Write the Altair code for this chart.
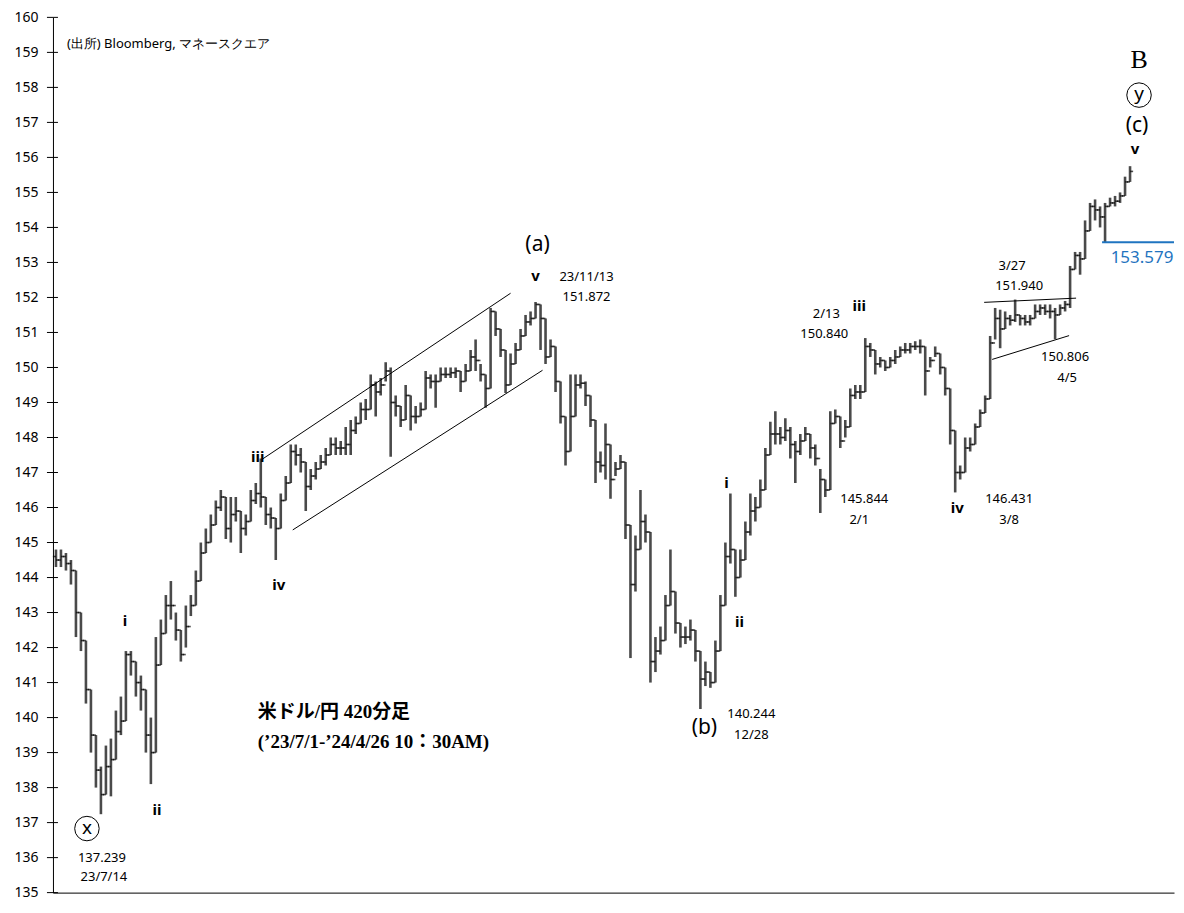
import altair as alt
import pandas as pd

# ---- OHLC data (420-minute bars, one value per bar) ----
FIRST_OPEN = 144.6
highs = [144.8,144.8,144.7,144.5,144.2,143.0,142.2,140.8,139.5,138.6,
         139.2,139.4,140.2,140.6,141.9,141.9,141.6,141.2,140.8,140.0,
         142.3,142.8,143.5,143.9,143.0,142.5,143.2,143.5,144.2,145.0,
         145.4,145.8,146.2,146.5,146.3,146.3,146.3,145.9,145.8,146.5,
         146.7,147.4,146.3,146.0,145.7,146.4,146.9,147.8,147.8,147.7,
         147.3,147.1,147.3,147.5,147.7,148.0,148.0,147.9,148.3,148.5,
         148.6,149.0,149.1,149.8,149.6,149.7,150.15,150.0,149.2,148.9,
         149.5,149.2,148.9,149.0,149.9,149.8,149.8,150.0,150.0,150.0,
         150.0,149.9,150.1,150.5,150.8,150.1,149.8,151.7,151.6,151.1,
         150.5,150.4,150.7,151.1,151.5,151.6,151.87,151.8,151.4,150.8,
         150.6,149.6,148.6,149.8,149.8,149.8,149.6,149.2,148.5,147.6,
         148.4,147.8,147.3,147.5,147.3,145.5,145.2,146.5,145.8,145.3,
         142.3,142.6,143.5,144.8,143.6,142.7,142.6,142.8,142.5,141.9,
         141.6,141.3,142.2,143.5,145.0,146.4,144.8,144.8,145.6,146.4,
         146.3,146.8,147.7,148.45,148.75,148.3,148.55,148.3,147.9,148.1,
         148.3,148.1,147.8,147.1,146.8,148.75,148.8,148.6,148.5,149.4,
         149.5,149.5,150.84,150.7,150.5,150.3,150.2,150.3,150.5,150.6,
         150.7,150.7,150.75,150.8,150.6,150.3,150.6,150.4,150.0,149.4,
         148.2,147.2,148.0,148.0,148.4,148.8,149.2,150.9,151.7,151.65,
         151.6,151.5,151.94,151.5,151.5,151.5,151.8,151.8,151.8,151.8,
         151.7,151.8,151.9,152.9,153.3,153.3,154.2,154.7,154.8,154.6,
         154.7,154.85,154.9,155.0,155.45,155.75]
lows = [144.3,144.3,144.2,143.8,142.3,141.9,140.4,139.0,138.0,137.24,
        137.8,137.75,138.8,139.5,139.9,141.2,140.6,140.2,139.0,138.1,
        139.0,141.5,142.4,142.8,142.2,141.6,142.0,142.9,143.2,143.9,
        144.7,145.0,145.5,145.9,145.1,145.0,145.6,144.7,145.2,145.6,
        146.1,146.0,145.5,145.4,144.5,145.4,146.2,146.7,147.2,147.0,
        145.9,146.5,146.8,147.1,147.2,147.5,147.5,147.5,147.5,147.5,
        148.1,148.4,148.5,148.8,148.6,149.2,149.6,147.45,148.6,148.3,
        148.5,148.2,148.4,148.6,148.8,149.4,148.85,149.6,149.7,149.7,
        149.7,149.3,149.6,149.9,149.9,149.6,148.85,149.4,150.9,150.3,
        149.27,149.5,150.1,150.5,150.9,151.2,151.4,150.5,150.1,150.3,
        149.3,148.4,147.2,147.6,148.6,149.4,148.9,148.3,146.7,147.0,
        146.8,146.25,146.9,147.1,145.1,141.7,143.6,144.8,145.0,141.0,
        141.3,141.8,142.2,143.2,142.4,142.0,142.1,142.2,141.6,140.244,
        140.9,140.85,141.0,141.9,143.2,144.4,143.45,144.0,144.5,145.2,
        145.6,146.0,146.5,147.5,147.8,147.8,147.9,147.4,146.7,147.5,
        147.9,147.4,147.2,145.844,146.3,146.5,148.4,147.7,148.0,148.3,
        149.1,149.1,149.3,150.3,149.8,150.0,149.9,150.0,150.1,150.3,
        150.4,150.4,150.5,150.4,149.2,150.0,150.3,149.8,149.2,147.8,
        146.431,146.8,147.0,147.6,147.8,148.3,148.7,149.1,150.8,150.55,
        151.1,151.2,151.3,151.2,151.2,151.2,151.4,151.5,151.5,151.4,
        150.806,151.5,151.6,151.7,152.8,152.65,153.1,153.9,154.2,154.0,
        153.579,154.6,154.6,154.7,154.9,155.3]
closes = [144.5,144.6,144.4,144.2,143.0,142.2,140.8,139.5,138.5,137.8,
          138.6,138.8,139.6,139.9,141.8,141.6,141.0,140.8,139.5,139.0,
          141.5,142.4,143.2,143.2,142.5,141.8,142.6,143.2,143.9,144.7,
          145.0,145.5,146.0,146.3,145.4,145.8,145.9,145.4,145.6,146.2,
          146.4,146.3,145.8,145.7,145.4,146.2,146.7,147.6,147.5,147.3,
          146.6,146.9,147.1,147.3,147.5,147.8,147.7,147.7,147.8,148.2,
          148.4,148.8,148.8,149.5,149.3,149.5,149.9,149.0,148.9,148.5,
          149.2,148.6,148.6,148.8,149.7,149.6,149.6,149.8,149.8,149.85,
          149.9,149.6,149.9,150.3,150.2,149.8,149.4,151.6,151.1,150.5,
          149.5,150.1,150.5,150.9,151.3,151.4,151.8,151.4,150.3,150.6,
          149.6,148.6,147.6,148.6,149.5,149.55,149.2,148.5,147.3,147.2,
          147.8,146.8,147.1,147.3,145.5,143.8,144.8,145.6,145.3,141.6,
          141.9,142.2,143.2,143.6,142.7,142.3,142.3,142.5,141.9,141.1,
          141.3,141.0,141.9,143.2,144.6,144.8,144.0,144.5,145.3,145.9,
          146.0,146.5,147.5,148.1,148.1,148.0,148.2,147.8,147.6,147.9,
          148.1,147.7,147.4,146.8,146.5,148.4,148.6,147.9,148.3,149.2,
          149.3,149.3,150.6,150.5,150.1,150.2,150.0,150.2,150.3,150.5,
          150.5,150.6,150.6,150.6,149.9,150.2,150.4,150.0,149.4,148.2,
          147.0,147.0,147.7,147.8,148.3,148.7,149.1,150.7,151.4,151.1,
          151.4,151.35,151.5,151.4,151.3,151.4,151.6,151.7,151.6,151.6,
          151.5,151.7,151.8,152.8,153.2,153.1,153.9,154.6,154.5,154.3,
          154.6,154.7,154.75,154.9,155.3,155.6]

opens = [FIRST_OPEN] + closes[:-1]
df = pd.DataFrame({"bar": list(range(len(closes))), "open": opens,
                   "high": highs, "low": lows, "close": closes})

# ---- axis ticks ----
y_ticks = list(range(135, 161))

# ---- annotations (data coordinates: bar index, price) ----
num_texts = ["137.239", "23/7/14", "23/11/13", "151.872", "140.244", "12/28",
             "2/13", "150.840", "145.844", "2/1", "146.431", "3/8",
             "3/27", "151.940", "150.806", "4/5"]
num_x = [9.2, 9.6, 106.2, 106.2, 139.2, 139.2, 154.2, 153.8, 161.8, 160.8,
         190.8, 190.8, 191.4, 192.8, 202.0, 202.4]
num_y = [135.99, 135.45, 152.57, 152.00, 140.10, 139.50, 151.53, 150.96,
         146.23, 145.64, 146.23, 145.64, 152.91, 152.34, 150.29, 149.70]

wave_texts = ["i", "ii", "iii", "iv", "v", "i", "ii", "iii", "iv", "v"]
wave_x = [13.8, 20.2, 40.4, 44.6, 96.0, 134.2, 136.8, 160.8, 180.4, 216.0]
wave_y = [142.77, 137.36, 147.44, 143.78, 152.60, 146.71, 142.74, 151.75, 145.98, 156.23]

deg_texts = ["(a)", "(b)", "(c)"]
deg_x = [96.4, 129.8, 216.4]
deg_y = [153.50, 139.70, 156.90]

circ_texts = ["x", "y"]
circ_x = [6.2, 216.8]
circ_y = [136.83, 157.78]

big_texts = ["B"]
big_x = [216.8]
big_y = [158.79]

title_texts = ["米ドル/円 420分足", "(’23/7/1-’24/4/26 10：30AM)"]
title_x = [40.4, 40.4]
title_y = [140.15, 139.31]

source_texts = ["(出所)  Bloomberg, マネースクエア"]
source_x = [2.2]
source_y = [159.24]

# trend / channel lines
seg_x0 = [41.4, 47.4, 185.8, 187.4]
seg_y0 = [147.39, 145.36, 151.86, 150.23]
seg_x1 = [91.0, 97.4, 204.2, 202.8]
seg_y1 = [152.12, 149.92, 151.98, 150.91]

support_level = [153.579]
support_x0 = [209.4]
support_x1 = [223.8]
support_label = ["153.579"]
support_label_x = [217.4]
support_label_y = [153.13]

BLUE = "#1f74c0"
FONT = "Noto Sans"
SERIF = "Liberation Serif, DejaVu Serif, Noto Sans CJK JP"

xs = alt.Scale(domain=[-0.6, 223.8], nice=False, zero=False)
ys = alt.Scale(domain=[135, 160], nice=False, zero=False)

X = alt.X("bar:Q", scale=xs,
          axis=alt.Axis(labels=False, ticks=False, grid=False, title="",
                        domainColor="black"))
Y = alt.Y("low:Q", scale=ys,
          axis=alt.Axis(values=y_ticks, grid=False, tickSize=0, labelPadding=15,
                        labelOverlap=False, labelBound=False, labelFlush=False,
                        title="", domainColor="black", labelFont=FONT,
                        labelFontSize=14, labelColor="black"))

base = alt.Chart(df)
bar_rules = base.mark_rule(color="#4a4a4a", strokeWidth=2.6).encode(x=X, y=Y, y2="high:Q")
open_ticks = base.mark_tick(orient="horizontal", size=3, thickness=1.6,
                            color="black", xOffset=-1.6).encode(x="bar:Q", y="open:Q")
close_ticks = base.mark_tick(orient="horizontal", size=3, thickness=1.6,
                             color="black", xOffset=1.6).encode(x="bar:Q", y="close:Q")

tick_df = pd.DataFrame({"v": y_ticks})
ytick_rules = alt.Chart(tick_df).mark_rule(color="black", strokeWidth=1).encode(
    x=alt.value(-6), x2=alt.value(5), y="v:Q")

seg_df = pd.DataFrame({"x0": seg_x0, "y0": seg_y0, "x1": seg_x1, "y1": seg_y1})
segs = alt.Chart(seg_df).mark_rule(color="black", strokeWidth=1).encode(
    x="x0:Q", y="y0:Q", x2="x1:Q", y2="y1:Q")

sup_df = pd.DataFrame({"x0": support_x0, "x1": support_x1, "y": support_level})
sup = alt.Chart(sup_df).mark_rule(color=BLUE, strokeWidth=2).encode(
    x="x0:Q", x2="x1:Q", y="y:Q")


def text_layer(texts, xv, yv, **kw):
    d = pd.DataFrame({"t": texts, "x": xv, "y": yv})
    return alt.Chart(d).mark_text(baseline="middle", **kw).encode(
        x="x:Q", y="y:Q", text="t:N")


nums = text_layer(num_texts, num_x, num_y, font=FONT, fontSize=13, color="black")
waves = text_layer(wave_texts, wave_x, wave_y, font=FONT, fontSize=15,
                   fontWeight="bold", color="black")
degs = text_layer(deg_texts, deg_x, deg_y, font=FONT, fontSize=21, color="black")
circ_txt = text_layer(circ_texts, circ_x, circ_y, font=FONT, fontSize=19, color="black",
                      dy=-1)
circ_df = pd.DataFrame({"x": circ_x, "y": circ_y})
circles = alt.Chart(circ_df).mark_point(shape="circle", size=600, filled=False,
                                        color="black", strokeWidth=1, opacity=1).encode(
    x="x:Q", y="y:Q")
big = text_layer(big_texts, big_x, big_y, font=SERIF, fontSize=26, color="black")
titles = text_layer(title_texts, title_x, title_y, font=SERIF, fontSize=19,
                    fontWeight="bold", color="black", align="left")
source = text_layer(source_texts, source_x, source_y, font=FONT, fontSize=13,
                    color="black", align="left")
sup_lbl = text_layer(support_label, support_label_x, support_label_y, font=FONT,
                     fontSize=17, color=BLUE)

chart = alt.layer(
    bar_rules, open_ticks, close_ticks, ytick_rules, segs, sup,
    nums, waves, degs, circles, circ_txt, big, titles, source, sup_lbl
).properties(
    width=1122, height=876,
    autosize=alt.AutoSizeParams(type="none"),
    padding={"left": 45, "top": 9, "right": 2, "bottom": 8},
).configure_view(
    stroke="transparent"
).configure_axisY(
    labelOverlap=False, tickCount=26
).configure_axis(
    labelOverlap=False
)

chart.save("out.html", embed_options={"renderer": "svg", "actions": False})
